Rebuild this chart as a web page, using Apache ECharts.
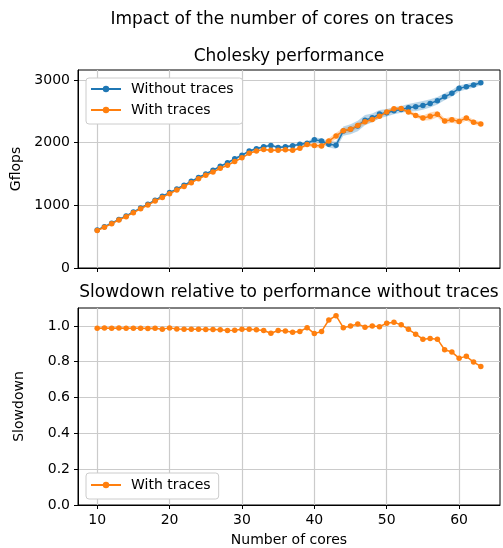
<!DOCTYPE html>
<html>
<head>
<meta charset="utf-8">
<script src="https://cdn.jsdelivr.net/npm/echarts@6/dist/echarts.min.js"></script>
<style>
  html, body { margin: 0; padding: 0; background: #fff; }
  #main { width: 503px; height: 548px; }
</style>
</head>
<body>
<div id="main"></div>
<script>
// number of cores on the x axis
var cores = [10, 11, 12, 13, 14, 15, 16, 17, 18, 19, 20, 21, 22, 23, 24, 25, 26, 27, 28, 29,
  30, 31, 32, 33, 34, 35, 36, 37, 38, 39, 40, 41, 42, 43, 44, 45, 46, 47, 48, 49,
  50, 51, 52, 53, 54, 55, 56, 57, 58, 59, 60, 61, 62, 63];

// Gflops without traces (mean) and its spread
var perfNoTraces = [607, 660, 716, 776, 831, 895, 957, 1019, 1082, 1146, 1203, 1262, 1322, 1383, 1444, 1500, 1562, 1622, 1680, 1743,
  1800, 1866, 1904, 1936, 1957, 1925, 1936, 1952, 1975, 1990, 2045, 2027, 1975, 1960, 2185, 2213, 2267, 2360, 2397, 2456,
  2477, 2509, 2531, 2557, 2573, 2595, 2627, 2669, 2733, 2787, 2867, 2893, 2920, 2957];
var spreadNoTraces = [6, 6, 7, 7, 8, 8, 9, 9, 10, 10, 10, 11, 11, 12, 12, 12, 13, 14, 14, 15,
  16, 18, 18, 20, 20, 22, 20, 22, 24, 26, 40, 40, 50, 60, 75, 80, 85, 80, 70, 65,
  60, 55, 55, 60, 70, 70, 65, 60, 55, 55, 50, 45, 45, 40];

// Gflops with traces (mean) and its spread
var perfTraces = [598, 649, 707, 766, 819, 883, 945, 1005, 1068, 1126, 1186, 1245, 1302, 1362, 1424, 1479, 1532, 1590, 1640, 1700,
  1758, 1830, 1866, 1893, 1880, 1880, 1886, 1880, 1912, 1970, 1957, 1946, 2027, 2107, 2190, 2213, 2275, 2335, 2370, 2420,
  2490, 2540, 2545, 2490, 2435, 2395, 2420, 2455, 2345, 2365, 2340, 2395, 2325, 2300];
var spreadTraces = [5, 5, 6, 6, 6, 7, 7, 8, 8, 8, 9, 9, 10, 10, 10, 11, 11, 12, 12, 13,
  14, 14, 15, 16, 16, 18, 18, 20, 22, 25, 35, 40, 45, 50, 45, 45, 45, 40, 40, 35,
  30, 30, 30, 30, 35, 40, 60, 50, 45, 45, 45, 40, 40, 35];

// slowdown = perf with traces / perf without traces
var slowdown = [0.987, 0.988, 0.987, 0.988, 0.987, 0.987, 0.987, 0.986, 0.987, 0.982, 0.989, 0.983, 0.982, 0.982, 0.981, 0.980, 0.980, 0.978, 0.975, 0.976,
  0.981, 0.981, 0.978, 0.974, 0.959, 0.974, 0.972, 0.965, 0.969, 0.990, 0.957, 0.969, 1.033, 1.057, 0.990, 1.000, 1.011, 0.993, 1.000, 0.996,
  1.015, 1.020, 1.006, 0.981, 0.954, 0.926, 0.930, 0.926, 0.867, 0.854, 0.820, 0.830, 0.798, 0.774];

var xTicks = [10, 20, 30, 40, 50, 60];
var perfTicks = [0, 1000, 2000, 3000];
var slowTicks = [0, 0.2, 0.4, 0.6, 0.8, 1.0];

var BLUE = '#1f77b4';
var ORANGE = '#ff7f0e';
var FONT = 'DejaVu Sans';

function pairs (ys) {
  return cores.map(function (c, i) { return [c, ys[i]]; });
}

// shaded band (mean +- spread) drawn as one polygon through the axis scales
function bandSeries (ys, sp, color, key) {
  var data = cores.map(function (c, i) { return [c, ys[i] - sp[i], ys[i] + sp[i]]; });
  return {
    name: 'band-' + key,
    type: 'custom', xAxisIndex: 0, yAxisIndex: 0,
    data: data, encode: { x: 0, y: [1, 2] },
    silent: true, clip: true, z: 1,
    renderItem: function (params, api) {
      if (params.dataIndexInside !== 0) return;
      var n = params.dataInsideLength;
      var top = [], bottom = [];
      for (var i = 0; i < n; i++) {
        var x = api.value(0, i);
        top.push(api.coord([x, api.value(2, i)]));
        bottom.unshift(api.coord([x, api.value(1, i)]));
      }
      return {
        type: 'polygon',
        shape: { points: top.concat(bottom) },
        style: { fill: color, opacity: 0.3 }
      };
    }
  };
}

function mainLine (name, ys, color, xi, yi, z) {
  return {
    name: name, type: 'line', xAxisIndex: xi, yAxisIndex: yi,
    data: pairs(ys),
    symbol: 'circle', symbolSize: 5.5, showSymbol: true,
    itemStyle: { color: color },
    lineStyle: { color: color, width: 1.5 },
    z: z
  };
}

function xAxisCfg (gi, withLabels) {
  return {
    type: 'value', gridIndex: gi, min: 7.35, max: 65.65,
    axisLine: { show: true, onZero: false, lineStyle: { color: '#000', width: 1 } },
    axisTick: { show: true, length: 4, customValues: xTicks, lineStyle: { color: '#000' } },
    axisLabel: { show: withLabels, customValues: xTicks, color: '#000', fontSize: 14, fontFamily: FONT, margin: 8 },
    splitLine: { show: true, lineStyle: { color: '#cbcbcb', width: 1.2 } },
    name: withLabels ? 'Number of cores' : '',
    nameLocation: 'middle', nameGap: 28,
    nameTextStyle: { color: '#000', fontSize: 14, fontFamily: FONT }
  };
}

function yAxisCfg (gi, min, max, ticks, name, fmt) {
  return {
    type: 'value', gridIndex: gi, min: min, max: max,
    axisLine: { show: true, lineStyle: { color: '#000', width: 1 } },
    axisTick: { show: true, length: 4, customValues: ticks, lineStyle: { color: '#000' } },
    axisLabel: { customValues: ticks, color: '#000', fontSize: 14, fontFamily: FONT, margin: 8, formatter: fmt },
    splitLine: { show: true, lineStyle: { color: '#cbcbcb', width: 1.2 } },
    name: name, nameLocation: 'middle', nameGap: 52,
    nameTextStyle: { color: '#000', fontSize: 14, fontFamily: FONT }
  };
}

var chart = echarts.init(document.getElementById('main'), null, { renderer: 'canvas' });

var series = [
  bandSeries(perfNoTraces, spreadNoTraces, BLUE, 'b'),
  bandSeries(perfTraces, spreadTraces, ORANGE, 'o'),
  mainLine('Without traces', perfNoTraces, BLUE, 0, 0, 3),
  mainLine('With traces', perfTraces, ORANGE, 0, 0, 4),
  mainLine('With traces', slowdown, ORANGE, 1, 1, 4)
];

var legendBase = {
  orient: 'vertical', left: 86, itemWidth: 30, itemHeight: 8, itemGap: 7,
  backgroundColor: '#fff', borderColor: '#cccccc', borderWidth: 1, borderRadius: 3,
  textStyle: { color: '#000', fontSize: 14, fontFamily: FONT, padding: [0, 0, 0, 5] },
  selectedMode: false
};

var option = {
  animation: false,
  backgroundColor: '#fff',
  textStyle: { fontFamily: FONT },
  grid: [
    { left: 78, top: 70, width: 422, height: 198, show: true, borderColor: '#000', borderWidth: 1, backgroundColor: 'transparent' },
    { left: 78, top: 308, width: 422, height: 198, show: true, borderColor: '#000', borderWidth: 1, backgroundColor: 'transparent' }
  ],
  xAxis: [xAxisCfg(0, false), xAxisCfg(1, true)],
  yAxis: [
    yAxisCfg(0, 0, 3160, perfTicks, 'Gflops', function (v) { return String(v); }),
    yAxisCfg(1, 0, 1.1, slowTicks, 'Slowdown', function (v) { return v.toFixed(1); })
  ],
  legend: [
    Object.assign({}, legendBase, { top: 78, padding: [4, 9, 7, 4], data: ['Without traces', 'With traces'] }),
    Object.assign({}, legendBase, { top: 473, padding: [5, 8, 7, 4], data: ['With traces'] })
  ],
  graphic: [
    { type: 'text', x: 282, y: 20, style: { text: 'Impact of the number of cores on traces', font: '17px "DejaVu Sans"', fill: '#000', textAlign: 'center', textVerticalAlign: 'middle' } },
    { type: 'text', x: 289, y: 57, style: { text: 'Cholesky performance', font: '17px "DejaVu Sans"', fill: '#000', textAlign: 'center', textVerticalAlign: 'middle' } },
    { type: 'text', x: 289, y: 293, style: { text: 'Slowdown relative to performance without traces', font: '17px "DejaVu Sans"', fill: '#000', textAlign: 'center', textVerticalAlign: 'middle' } }
  ],
  series: series
};

chart.setOption(option);
</script>
</body>
</html>
